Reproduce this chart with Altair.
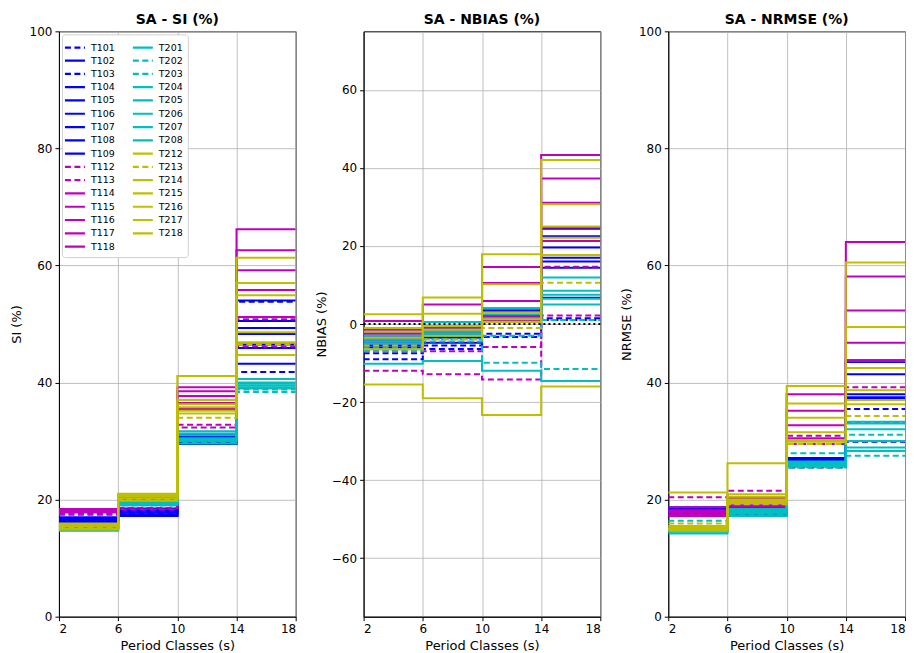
import altair as alt
import pandas as pd

periods = [2, 6, 10, 14, 18]

series_names = ["T101", "T102", "T103", "T104", "T105", "T106", "T107", "T108", "T109",
                "T112", "T113", "T114", "T115", "T116", "T117", "T118",
                "T201", "T202", "T203", "T204", "T205", "T206", "T207", "T208",
                "T212", "T213", "T214", "T215", "T216", "T217", "T218"]
dashed_series = ["T101", "T103", "T112", "T113", "T202", "T203", "T213"]

# SI (%) per period class 2-6, 6-10, 10-14, 14-18
si = {
    "T101": [16.5, 17.5, 30.5, 53.8], "T102": [16.8, 18.2, 30.8, 48.3],
    "T103": [16.2, 17.3, 30.2, 41.8], "T104": [16.0, 17.2, 29.5, 43.2],
    "T105": [16.5, 17.8, 31.2, 49.3], "T106": [17.0, 18.0, 30.6, 45.9],
    "T107": [16.3, 17.5, 29.8, 50.5], "T108": [16.6, 18.5, 31.0, 46.5],
    "T109": [16.8, 17.2, 29.6, 54.0],
    "T112": [17.6, 18.3, 32.3, 46.2], "T113": [17.4, 18.6, 32.8, 50.8],
    "T114": [18.0, 20.0, 37.7, 55.8], "T115": [18.2, 20.3, 39.2, 59.2],
    "T116": [17.8, 19.8, 36.5, 62.6], "T117": [18.4, 20.5, 38.5, 66.2],
    "T118": [17.9, 19.5, 35.5, 51.2],
    "T201": [15.0, 19.2, 31.7, 39.8], "T202": [14.8, 19.3, 30.0, 38.4],
    "T203": [15.2, 19.0, 29.8, 38.8], "T204": [14.9, 19.4, 30.5, 39.5],
    "T205": [15.3, 19.1, 31.0, 40.6], "T206": [15.0, 19.5, 30.2, 39.2],
    "T207": [14.7, 19.2, 29.6, 39.0], "T208": [15.1, 19.6, 31.3, 40.0],
    "T212": [15.5, 20.5, 36.3, 48.6], "T213": [15.3, 20.0, 34.0, 46.5],
    "T214": [15.8, 21.0, 41.1, 61.3], "T215": [15.0, 20.2, 35.2, 54.9],
    "T216": [15.6, 20.8, 34.7, 46.9], "T217": [14.9, 19.8, 35.8, 44.7],
    "T218": [15.9, 20.6, 37.0, 57.0],
}

nbias = {
    "T101": [-9.0, -6.4, -3.3, 1.0], "T102": [-4.5, -2.5, 3.0, 19.6],
    "T103": [-7.5, -5.5, -2.5, 1.5], "T104": [-3.0, -4.8, 1.6, 24.4],
    "T105": [-5.0, -3.0, 2.5, 17.0], "T106": [-2.0, -1.5, 4.0, 14.4],
    "T107": [-6.0, -2.0, 3.5, 6.7], "T108": [-4.0, -3.5, 2.0, 16.0],
    "T109": [-5.5, -1.0, 1.0, 22.5],
    "T112": [-12.0, -12.9, -14.2, 2.2], "T113": [-7.0, -7.0, -5.9, 14.7],
    "T114": [0.8, 5.0, 14.6, 43.3], "T115": [-1.0, -0.5, 5.9, 37.3],
    "T116": [-2.5, -1.0, 2.0, 31.1], "T117": [-1.5, 0.5, 10.5, 24.7],
    "T118": [-3.5, -2.0, 1.0, 21.3],
    "T201": [-6.5, -3.0, 1.5, 8.5], "T202": [-6.0, -3.9, -9.9, -11.5],
    "T203": [-7.0, -4.5, -3.0, 1.0], "T204": [-10.2, -9.5, -12.0, -14.6],
    "T205": [-4.0, -2.5, 3.0, 11.9], "T206": [-5.0, -1.5, 2.5, 5.0],
    "T207": [-3.0, -2.0, 1.5, 6.5], "T208": [-4.5, 0.5, 4.0, 7.5],
    "T212": [2.5, 6.8, 17.9, 42.0], "T213": [-5.5, -4.0, -1.0, 10.6],
    "T214": [-15.5, -19.0, -23.3, -16.0], "T215": [-1.0, 2.6, 10.2, 30.7],
    "T216": [-3.5, -1.5, 2.8, 22.1], "T217": [-2.0, -0.5, 0.5, 17.7],
    "T218": [-6.5, -3.0, 1.2, 25.0],
}

nrmse = {
    "T101": [18.0, 17.5, 25.5, 35.5], "T102": [18.7, 18.5, 26.5, 43.5],
    "T103": [17.6, 17.6, 26.0, 29.9], "T104": [18.2, 18.0, 26.8, 41.4],
    "T105": [17.8, 18.2, 27.1, 37.5], "T106": [18.4, 17.8, 26.3, 37.2],
    "T107": [17.5, 18.4, 26.6, 38.0], "T108": [18.0, 17.4, 26.1, 43.8],
    "T109": [18.5, 18.6, 27.0, 37.3],
    "T112": [20.4, 21.5, 30.9, 39.2], "T113": [18.0, 19.0, 29.5, 33.1],
    "T114": [18.7, 20.3, 38.0, 64.0], "T115": [18.2, 19.5, 35.2, 58.1],
    "T116": [17.5, 19.0, 32.7, 52.3], "T117": [17.9, 20.0, 30.5, 46.8],
    "T118": [17.2, 18.8, 30.0, 43.7],
    "T201": [14.5, 17.8, 26.5, 33.3], "T202": [16.4, 18.0, 27.9, 27.5],
    "T203": [15.0, 17.5, 25.5, 31.1], "T204": [14.2, 17.2, 25.8, 28.9],
    "T205": [14.8, 18.2, 26.2, 28.3], "T206": [15.2, 17.6, 25.6, 30.0],
    "T207": [14.6, 17.9, 26.0, 32.0], "T208": [15.5, 18.4, 26.4, 33.0],
    "T212": [21.2, 26.2, 39.4, 60.5], "T213": [15.9, 19.2, 29.5, 34.3],
    "T214": [15.2, 20.9, 36.4, 49.5], "T215": [14.7, 19.8, 34.0, 42.5],
    "T216": [15.5, 20.5, 29.9, 38.7], "T217": [15.0, 19.5, 31.5, 36.3],
    "T218": [14.9, 20.0, 30.2, 37.0],
}


def group_color(name):
    n = int(name[1:])
    if n < 112:
        return "#0000ff"
    if n < 200:
        return "#bf00bf"
    if n < 212:
        return "#00bfbf"
    return "#bfbf00"


color_range = [group_color(s) for s in series_names]
dash_range = [[6, 3.5] if s in dashed_series else [1, 0] for s in series_names]


def make_df(d):
    rows = []
    for s in series_names:
        vals = d[s] + [d[s][-1]]
        for p, v in zip(periods, vals):
            rows.append({"series": s, "x": p, "y": v})
    return pd.DataFrame(rows)


FONT = "DejaVu Sans"


def panel(d, title, ytitle, ydomain, yticks, show_legend, zero_line=False, title_dy=0):
    df = make_df(d)
    legend = None
    if show_legend:
        legend = alt.Legend(
            title=None, orient="top-left", columns=2, columnPadding=13,
            rowPadding=0.3, labelFontSize=9.5, labelFont=FONT, labelColor="black",
            symbolType="M-1.5,0H1.5", symbolSize=178, symbolStrokeWidth=2.2,
            strokeColor="#d0d0d0", fillColor="white", padding=5, cornerRadius=3,
            offset=3, labelLimit=60, symbolLimit=0, labelOffset=8,
        )
    base = alt.Chart(df).mark_line(interpolate="step-after", strokeWidth=2, clip=True).encode(
        x=alt.X("x:Q", title="Period Classes (s)",
                scale=alt.Scale(domain=[2, 18], nice=False, zero=False),
                axis=alt.Axis(values=periods, format="d", titlePadding=5,
                              titleFontWeight="normal")),
        y=alt.Y("y:Q", title=ytitle,
                scale=alt.Scale(domain=ydomain, nice=False, zero=False),
                axis=alt.Axis(values=yticks, format="d", minExtent=28, maxExtent=28,
                              titlePadding=7, titleFontWeight="normal")),
        color=alt.Color("series:N", scale=alt.Scale(domain=series_names, range=color_range),
                        legend=legend),
        strokeDash=alt.StrokeDash("series:N",
                                  scale=alt.Scale(domain=series_names, range=dash_range),
                                  legend=legend),
        detail="series:N",
    )
    layers = [base]
    if zero_line:
        zl = alt.Chart(pd.DataFrame({"x": [2, 18], "y": [0, 0]})).mark_line(
            color="black", strokeDash=[2, 3], strokeWidth=2
        ).encode(x="x:Q", y="y:Q")
        layers.append(zl)
    return alt.layer(*layers).properties(
        width=237, height=586,
        title=alt.TitleParams(title, fontSize=14, font=FONT, fontWeight="bold",
                              offset=4, color="black", frame="group", anchor="middle",
                              dy=title_dy),
    )


p1 = panel(si, "SA - SI (%)", "SI (%)", [0, 100], [0, 20, 40, 60, 80, 100], True,
           title_dy=6)
p2 = panel(nbias, "SA - NBIAS (%)", "NBIAS (%)", [-75, 75], [-60, -40, -20, 0, 20, 40, 60],
           False, zero_line=True)
p3 = panel(nrmse, "SA - NRMSE (%)", "NRMSE (%)", [0, 100], [0, 20, 40, 60, 80, 100], False,
           title_dy=6)

chart = alt.hconcat(
    p1, p2, p3, spacing=68, bounds="flush",
    padding={"left": 2, "right": 0, "top": 4, "bottom": 0},
).resolve_scale(
    color="independent", strokeDash="independent", y="independent"
).configure_axis(
    labelFont=FONT, titleFont=FONT, labelFontSize=12, titleFontSize=13,
    labelColor="black", titleColor="black", titleFontWeight="normal",
    domainColor="black", tickColor="black", tickSize=4,
    gridColor="#b0b0b0", gridWidth=0.8, labelPadding=3,
).configure_view(
    stroke="black", strokeWidth=1,
)

chart.save("out.html", embed_options={"renderer": "svg", "actions": False})
